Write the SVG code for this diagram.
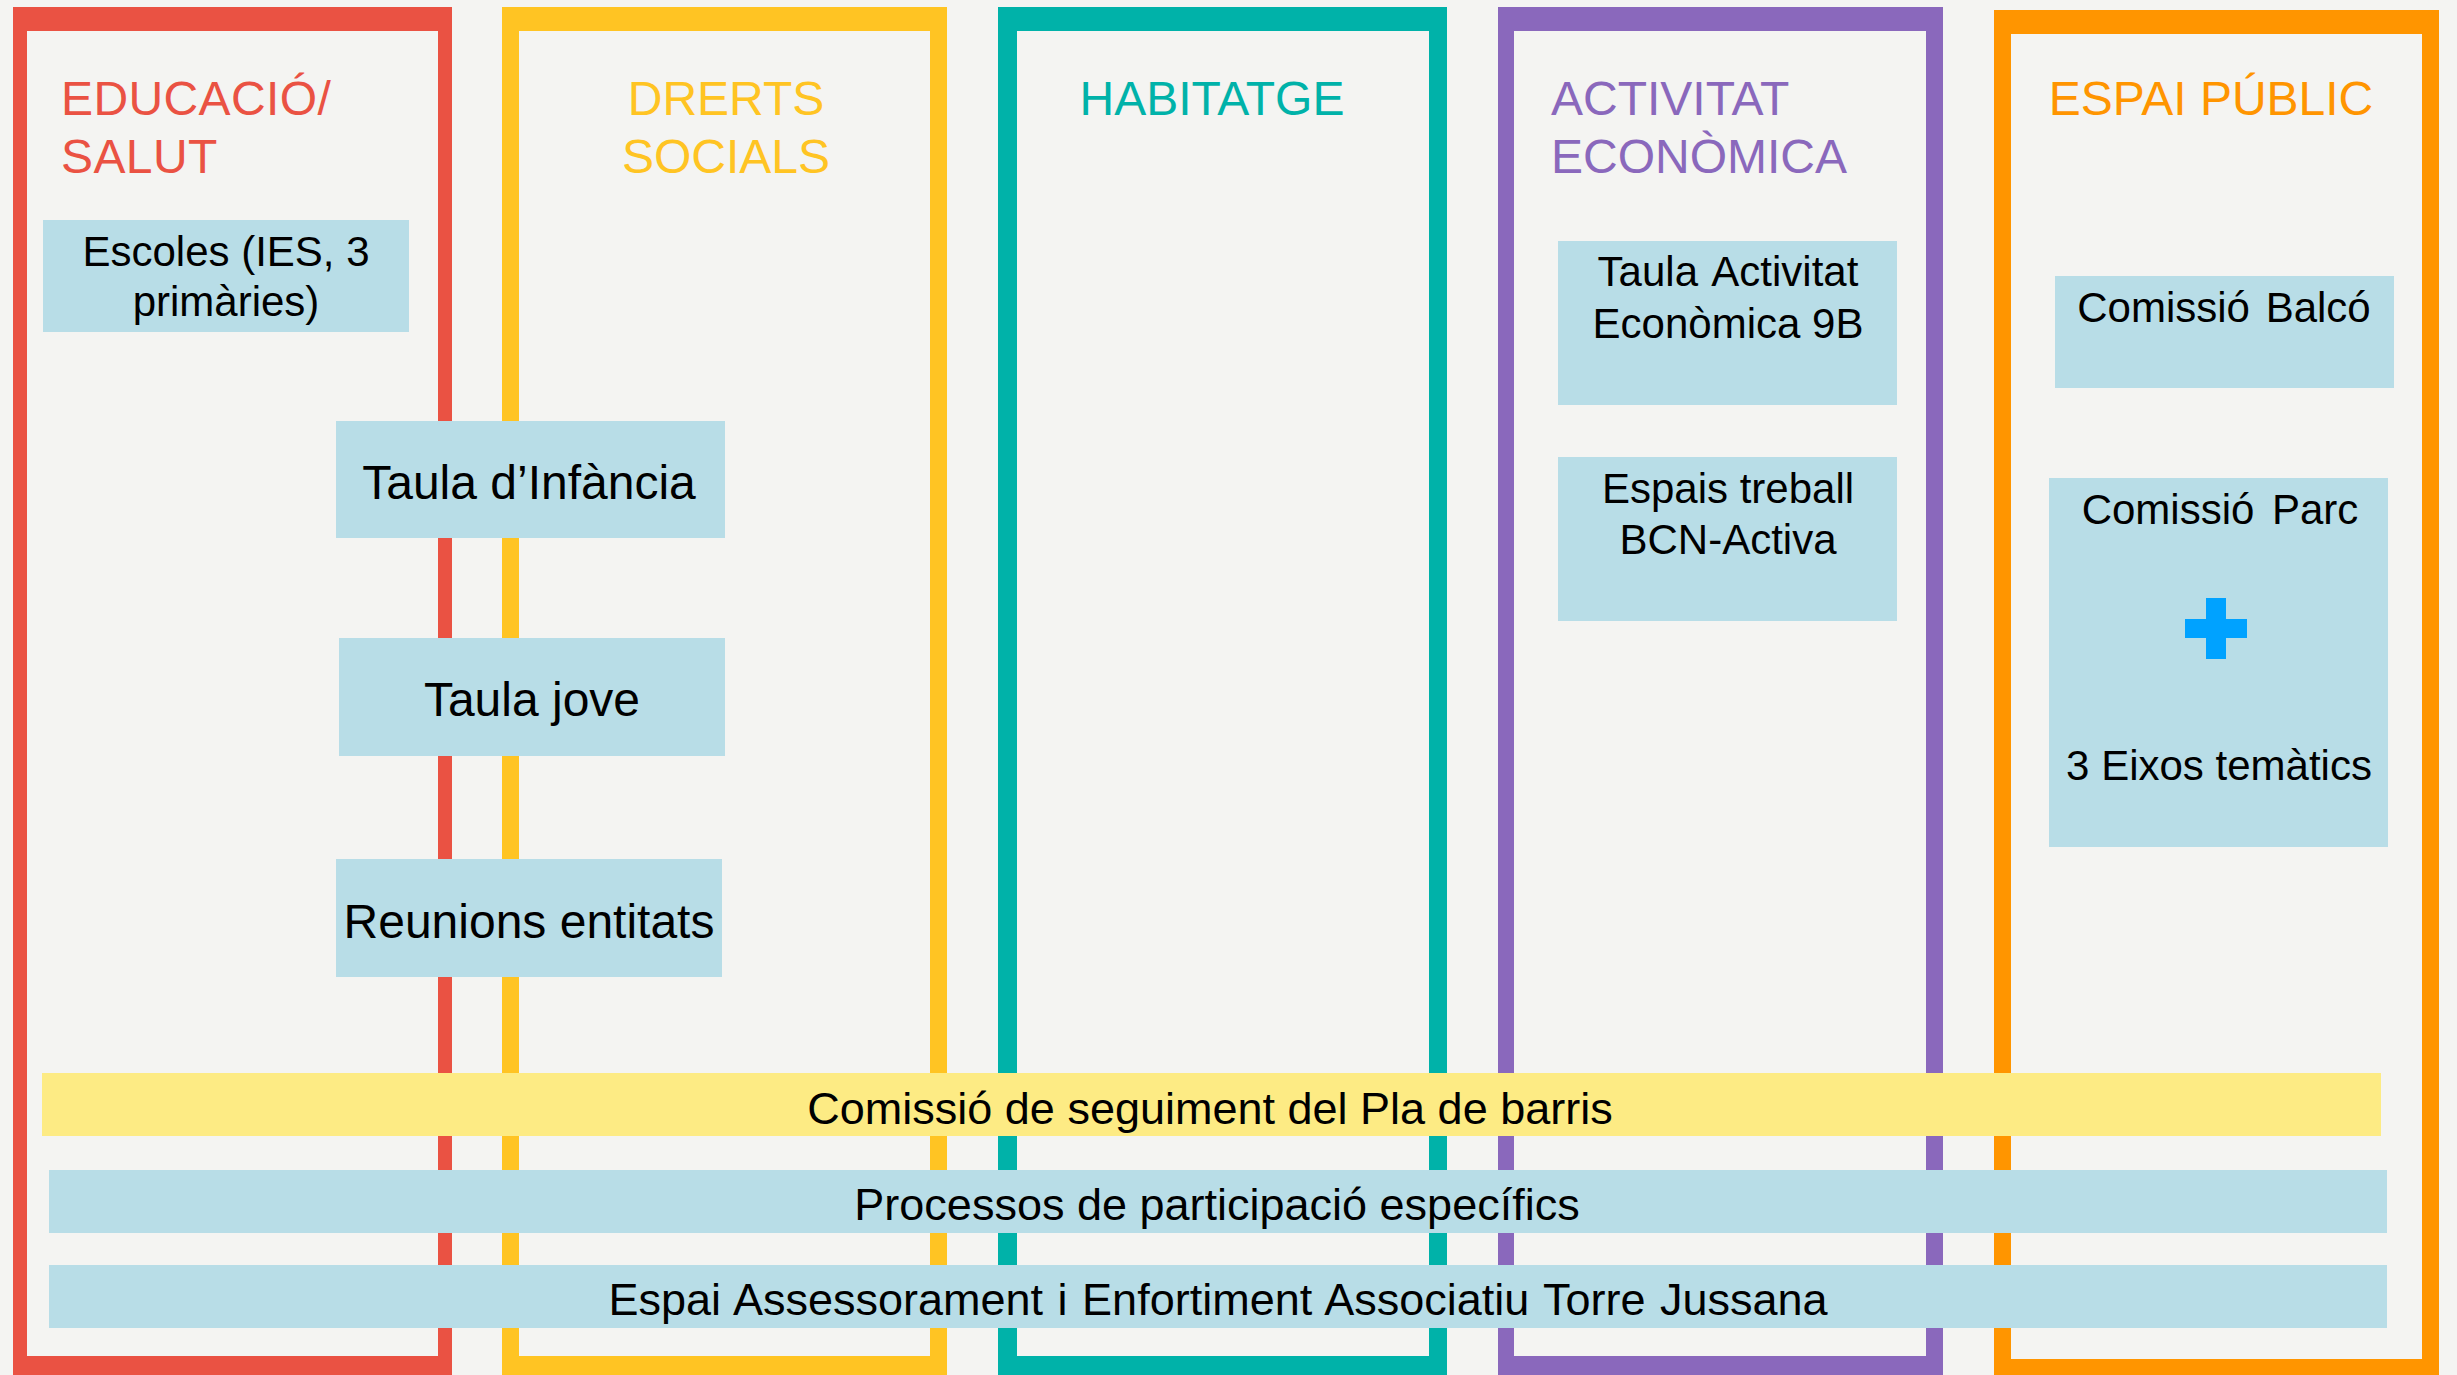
<svg xmlns="http://www.w3.org/2000/svg" width="2457" height="1375" viewBox="0 0 2457 1375">
<style>
.bg{fill:#F4F4F2}
.frame{fill-rule:evenodd}
.title{font-family:"Liberation Sans",Arial,sans-serif;font-size:48px}
.box{fill:#B8DDE7}
.band{fill:#FDEB84}
.t{font-family:"Liberation Sans",Arial,sans-serif;fill:#000;text-anchor:middle}
.s{font-size:42px}
.b{font-size:48px}
.w{font-size:45px}
</style>
<rect class="bg" x="0" y="0" width="2457" height="1375"/>
<g id="frames">
<g id="col-educacio">
<path class="frame" fill="#EA5243" d="M13 7H452V1380H13Z M27 31V1356H438V31Z"/>
<text class="title" fill="#EA5243" x="61" y="115" letter-spacing="0.4">EDUCACIÓ/</text>
<text class="title" fill="#EA5243" x="61" y="173" letter-spacing="0.4">SALUT</text>
</g>
<g id="col-drets">
<path class="frame" fill="#FFC423" d="M502 7H947V1380H502Z M519 31V1356H930V31Z"/>
<text class="title" fill="#FFC423" x="726" y="115" text-anchor="middle">DRERTS</text>
<text class="title" fill="#FFC423" x="726" y="173" text-anchor="middle">SOCIALS</text>
</g>
<g id="col-habitatge">
<path class="frame" fill="#00B2A9" d="M998 7H1447V1380H998Z M1017 31V1356H1429V31Z"/>
<text class="title" fill="#00B2A9" x="1212" y="115" text-anchor="middle">HABITATGE</text>
</g>
<g id="col-activitat">
<path class="frame" fill="#8A68BC" d="M1498 7H1943V1380H1498Z M1514 31V1356H1926V31Z"/>
<text class="title" fill="#8A68BC" x="1551" y="115">ACTIVITAT</text>
<text class="title" fill="#8A68BC" x="1551" y="173">ECONÒMICA</text>
</g>
<g id="col-espai">
<path class="frame" fill="#FF9500" d="M1994 10H2439V1380H1994Z M2011 34V1359H2422V34Z"/>
<text class="title" fill="#FF9500" x="2211" y="115" text-anchor="middle">ESPAI PÚBLIC</text>
</g>
</g>
<g id="connectors"></g>
<g id="escoles">
<rect class="box" x="43" y="220" width="366" height="112"/>
<text class="t s" x="226" y="266">Escoles (IES, 3</text>
<text class="t s" x="226" y="316">primàries)</text>
</g>
<g id="taula-infancia">
<rect class="box" x="336" y="421" width="389" height="117"/>
<text class="t b" x="529" y="499">Taula d’Infància</text>
</g>
<g id="taula-jove">
<rect class="box" x="339" y="638" width="386" height="118"/>
<text class="t b" x="532" y="716">Taula jove</text>
</g>
<g id="reunions">
<rect class="box" x="336" y="859" width="386" height="118"/>
<text class="t b" x="529" y="938">Reunions entitats</text>
</g>
<g id="taula-activitat">
<rect class="box" x="1558" y="241" width="339" height="164"/>
<text class="t s" x="1728" y="286" word-spacing="4">Taula Activitat</text>
<text class="t s" x="1728" y="338">Econòmica 9B</text>
</g>
<g id="espais-treball">
<rect class="box" x="1558" y="457" width="339" height="164"/>
<text class="t s" x="1728" y="503">Espais treball</text>
<text class="t s" x="1728" y="554">BCN-Activa</text>
</g>
<g id="comissio-balco">
<rect class="box" x="2055" y="276" width="339" height="112"/>
<text class="t s" x="2224" y="322" word-spacing="4">Comissió Balcó</text>
</g>
<g id="comissio-parc">
<rect class="box" x="2049" y="478" width="339" height="369"/>
<text class="t s" x="2220" y="524" word-spacing="6">Comissió Parc</text>
<rect x="2206" y="598" width="20" height="61" fill="#00A2FF"/>
<rect x="2185" y="619" width="62" height="19" fill="#00A2FF"/>
<text class="t s" x="2219" y="780">3 Eixos temàtics</text>
</g>
<g id="comissio-seguiment">
<rect class="band" x="42" y="1073" width="2339" height="63"/>
<text class="t w" x="1210" y="1124">Comissió de seguiment del Pla de barris</text>
</g>
<g id="processos">
<rect class="box" x="49" y="1170" width="2338" height="63"/>
<text class="t w" x="1217" y="1220">Processos de participació específics</text>
</g>
<g id="espai-assessorament">
<rect class="box" x="49" y="1265" width="2338" height="63"/>
<text class="t w" x="1218" y="1315" word-spacing="2">Espai Assessorament i Enfortiment Associatiu Torre Jussana</text>
</g>
</svg>
